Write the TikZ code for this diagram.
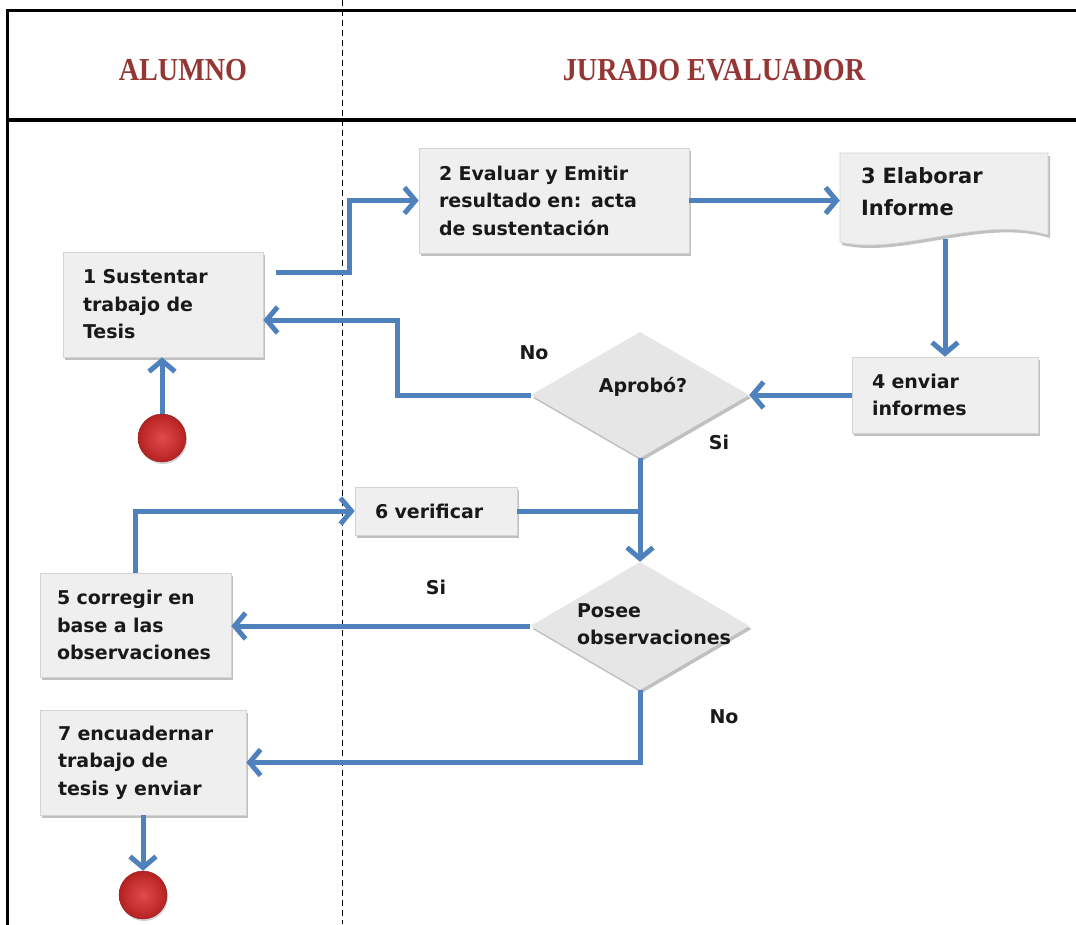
\documentclass[tikz,border=0pt]{standalone}
\usepackage{fontspec}
\setmainfont{DejaVu Sans}
\newfontfamily\headfont{Liberation Serif}
\usetikzlibrary{shapes.geometric,shadows,arrows.meta,calc}
\definecolor{flowblue}{HTML}{4F81BD}
\definecolor{boxfill}{HTML}{EFEFEF}
\definecolor{boxline}{HTML}{D4D4D4}
\definecolor{headred}{HTML}{943634}
\definecolor{diafill}{HTML}{E6E6E6}
\definecolor{dotlight}{HTML}{E44A4A}
\definecolor{dotdark}{HTML}{B52222}
\begin{document}
\begin{tikzpicture}[x=1pt,y=-1pt,
  every node/.style={font=\bfseries\fontsize{19}{27.5}\selectfont, text=black!90},
  softshadow/.style={drop shadow={shadow xshift=2pt, shadow yshift=-3pt, opacity=0.35, fill=black!70}},
  procbox/.style={rectangle, draw=boxline, line width=0.6pt, fill=boxfill,
    inner xsep=20pt, inner ysep=0pt, align=left, softshadow},
  decision/.style={diamond, fill=diafill, inner sep=0pt, softshadow},
  endpoint/.style={circle, inner sep=0pt, minimum size=48pt, draw=dotdark!80!black, line width=0.4pt,
    inner color=dotlight, outer color=dotdark,
    drop shadow={shadow xshift=1pt, shadow yshift=-2pt, opacity=0.25, fill=black!70}},
  heading/.style={font=\headfont\bfseries\fontsize{32}{32}\selectfont, text=headred, xscale=0.88},
  flowlabel/.style={inner sep=0pt},
  flow/.style={draw=flowblue, line width=5pt, -{Straight Barb[length=11pt,width=26pt]}},
  plainflow/.style={draw=flowblue, line width=5pt}]
\useasboundingbox (0,0) rectangle (1076,924);
\fill[white] (0,0) rectangle (1076,924);

% swimlane frame
\draw[line width=3pt] (1076,10) -- (7,10) -- (7,926);
\draw[line width=3.5pt] (7,120) -- (1076,120);
\draw[dashed, line width=0.8pt, dash pattern=on 6pt off 4pt] (342,0) -- (342,924);

\node[heading] (hA) at (183,70) {ALUMNO};
\node[heading] (hJ) at (714,70) {JURADO EVALUADOR};

% activities
\node[procbox, minimum width=200pt, minimum height=105pt, text width=160pt] (b1) at (163,304.5)
  {1 Sustentar\\trabajo de\\Tesis};
\node[procbox, minimum width=270pt, minimum height=105pt, text width=230pt] (b2) at (554,200.5)
  {2 Evaluar y Emitir\\resultado en: acta\\de sustentación};

% document shape for the report
\path[fill=boxfill, draw=boxline, line width=0.6pt, softshadow]
  (840,153) -- (1048,153) -- (1048,235)
  .. controls (980,215) and (900,256) .. (840,242) -- cycle;
\node[inner xsep=21pt, inner ysep=0pt, minimum width=208pt, minimum height=77pt, text width=166pt,
  align=left, font=\bfseries\fontsize{21}{32}\selectfont] (b3) at (944,191.5) {3 Elaborar\\Informe};

\node[procbox, minimum width=186pt, minimum height=76pt, text width=146pt] (b4) at (945,395)
  {4 enviar\\informes};
\node[decision, minimum width=218pt, minimum height=126pt] (a1) at (640,395) {};
\node[flowlabel] (a1t) at ([xshift=3pt,yshift=8pt]a1.center) {Aprobó?};

\node[procbox, minimum width=162pt, minimum height=48pt, text width=122pt] (b6) at (436,511)
  {6 verificar};
\node[decision, minimum width=219pt, minimum height=128pt] (a2) at (640,626) {};
\node[flowlabel, align=left] (a2t) at ([xshift=14pt,yshift=2pt]a2.center) {Posee\\observaciones};

\node[procbox, inner xsep=17pt, minimum width=191pt, minimum height=104pt, text width=157pt] (b5) at (135.5,625)
  {5 corregir en\\base a las\\observaciones};
\node[procbox, inner xsep=18pt, minimum width=206pt, minimum height=105pt, text width=170pt] (b7) at (143,762.5)
  {7 encuadernar\\trabajo de\\tesis y enviar};

\node[endpoint] (s) at (162,438) {};
\node[endpoint] (e) at (143,895) {};

% branch labels
\node[flowlabel] (l1) at (534,353) {No};
\node[flowlabel] (l2) at (719,442) {Si};
\node[flowlabel] (l3) at (436,587) {Si};
\node[flowlabel] (l4) at (724,717) {No};

% connectors
\draw[flow] (s.north) -- (b1.south -| s.north);
\draw[flow] ([xshift=13pt,yshift=32.5pt]b1.east) -- ++(73,0) |- (b2.west);
\draw[flow] (b2.east) -- (b2.east -| b3.west);
\draw[flow] ([yshift=-9pt]b4.north |- b3.south) -- (b4.north);
\draw[flow] (b4.west) -- (b4.west -| a1.east);
\draw[flow] (a1.west) -- ++(-133,0) |- ([yshift=-15.5pt]b1.east);
\draw[flow] (a1.south) -- (a2.north);
\draw[plainflow] (b6.east) -- (b6.east -| a1.south);
\draw[flow] (b5.north) |- (b6.west);
\draw[flow] (a2.west) -- (a2.west -| b5.east);
\draw[flow] (a2.south) |- (b7.east);
\draw[flow] (b7.south) -- (e.north);
\end{tikzpicture}
\end{document}
